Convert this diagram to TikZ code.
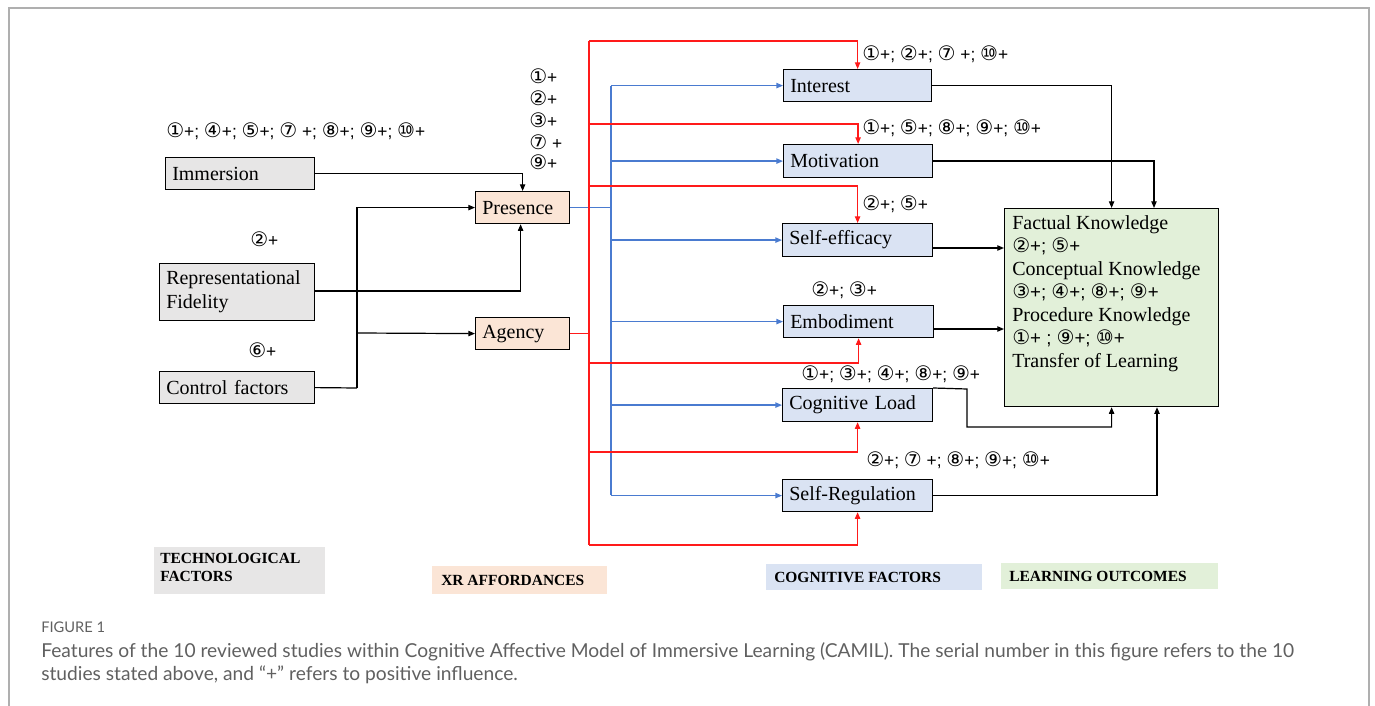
\documentclass[tikz,border=0pt]{standalone}
\usepackage{fontspec}
\setmainfont{Liberation Serif}
\newfontfamily\lsans{Liberation Sans}
\newfontfamily\dvs{DejaVu Sans}
\newfontfamily\capfont{Lato}
\usetikzlibrary{arrows.meta}
\definecolor{techc}{HTML}{E7E6E6}
\definecolor{xrc}{HTML}{FBE5D6}
\definecolor{cogc}{HTML}{DAE3F3}
\definecolor{loc}{HTML}{E2F0D9}
\definecolor{redc}{HTML}{FF1A1A}
\definecolor{bluec}{HTML}{4A7BD0}
\definecolor{framec}{HTML}{AFAFAF}
\definecolor{capc}{HTML}{606060}
\newcommand\ci[1]{{\dvs\fontsize{15}{15}\selectfont #1}}
\newcommand\mkbox[7]{%
  \pgfmathsetmacro\bxw{(#5-#3)*0.75-10}%
  \pgfmathsetmacro\bxh{(#6-#4)*0.75}%
  \node[#1, anchor=north west, inner xsep=5pt, inner ysep=0pt, text width=\bxw pt, minimum height=\bxh pt] (#2) at (#3,#4) {#7};}
\begin{document}
\begin{tikzpicture}[x=0.75pt,y=-0.75pt,
  bxt/.style={draw=black, line width=0.9pt, font=\fontsize{15}{18}\selectfont, align=left},
  tech/.style={bxt, fill=techc},
  xr/.style={bxt, fill=xrc},
  cog/.style={bxt, fill=cogc},
  lob/.style={bxt, fill=loc},
  lbl/.style={font=\lsans\fontsize{13}{14}\selectfont, anchor=west, inner sep=0pt},
  leg/.style={font=\bfseries\fontsize{11.6}{13.5}\selectfont, align=left, anchor=north west, inner sep=0pt},
  blk/.style={line width=0.9pt, draw=black},
  bl/.style={line width=1pt, draw=bluec},
  rd/.style={line width=1pt, draw=redc},
  tipk/.style={-{Triangle[length=5pt,width=4pt]}},
]
\useasboundingbox (0,0) rectangle (1375,706);
\draw[framec, line width=1pt] (9,706) -- (9,8) -- (1369,8) -- (1369,706);

% technological factors
\mkbox{tech}{imm}{165}{157}{314}{189}{Immersion}
\mkbox{tech}{rep}{159}{263}{314}{320}{Representational\\Fidelity}
\mkbox{tech}{ctl}{159}{371}{314}{403}{Control factors}
% XR affordances
\mkbox{xr}{pres}{475}{191}{569}{223}{Presence}
\mkbox{xr}{agy}{475}{317}{569}{349}{Agency}
% cognitive factors
\mkbox{cog}{int}{783}{69}{931}{101}{Interest}
\mkbox{cog}{mot}{783}{144}{932}{177}{Motivation}
\mkbox{cog}{se}{782}{223}{932}{256}{Self-efficacy}
\mkbox{cog}{emb}{783}{305}{933}{337}{Embodiment}
\mkbox{cog}{cl}{782}{388}{932}{421}{Cognitive Load}
\mkbox{cog}{sr}{782}{479}{932}{511}{Self-Regulation}
% learning outcomes
\mkbox{lob}{lo}{1004}{208}{1218}{406}{}
\node[font=\fontsize{15}{17.25}\selectfont, align=left, anchor=north west, inner sep=0pt] (lotext) at (1012,215)
  {Factual Knowledge\\
   {\lsans\fontsize{14}{14}\selectfont\ci{②}+; \ci{⑤}+}\\
   Conceptual Knowledge\\
   {\lsans\fontsize{14}{14}\selectfont\ci{③}+; \ci{④}+; \ci{⑧}+; \ci{⑨}+}\\
   Procedure Knowledge\\
   {\lsans\fontsize{14}{14}\selectfont\ci{①}+ ; \ci{⑨}+; \ci{⑩}+}\\
   Transfer of Learning};

% labels
\node[lbl] (l1) at (166,131) {\ci{①}+; \ci{④}+; \ci{⑤}+; \ci{⑦} +; \ci{⑧}+; \ci{⑨}+; \ci{⑩}+};
\node[lbl] (l2a) at (529,76) {\ci{①}+};
\node[lbl] (l2b) at (529,98) {\ci{②}+};
\node[lbl] (l2c) at (529,120) {\ci{③}+};
\node[lbl] (l2d) at (529,142) {\ci{⑦} +};
\node[lbl] (l2e) at (529,162) {\ci{⑨}+};
\node[lbl] (l3) at (250,239) {\ci{②}+};
\node[lbl] (l4) at (248,350) {\ci{⑥}+};
\node[lbl] (l5) at (862,54) {\ci{①}+; \ci{②}+; \ci{⑦} +; \ci{⑩}+};
\node[lbl] (l6) at (862,128) {\ci{①}+; \ci{⑤}+; \ci{⑧}+; \ci{⑨}+; \ci{⑩}+};
\node[lbl] (l7) at (862,204) {\ci{②}+; \ci{⑤}+};
\node[lbl] (l8) at (811,290) {\ci{②}+; \ci{③}+};
\node[lbl] (l9) at (801,374) {\ci{①}+; \ci{③}+; \ci{④}+; \ci{⑧}+; \ci{⑨}+};
\node[lbl] (l10) at (866,460) {\ci{②}+; \ci{⑦} +; \ci{⑧}+; \ci{⑨}+; \ci{⑩}+};

% black connectors: technological -> XR
\draw[blk, tipk] (imm.east) -| (pres.north);
\draw[blk, tipk] (rep.east |- 0,291) -| ([xshift=-1.5pt]pres.south);
\coordinate (cj) at (357,388);
\coordinate (cja) at (357,333);
\draw[blk] (ctl.east) -- (cj);
\draw[blk, tipk] (cj) |- (pres.west);
\draw[blk, tipk] (cja) -- (agy.west);

% blue connectors: presence -> cognitive
\coordinate (bt) at (611,86);
\coordinate (bb) at (611,495);
\draw[bl] (pres.east) -- (pres.east -| bt);
\draw[bl] (bt) -- (bb);
\foreach \n in {int,mot,se,emb,cl,sr}
  \draw[bl, tipk] (\n.west -| bt) -- (\n.west);

% red connectors: agency -> cognitive
\coordinate (rt) at (589,41);
\coordinate (rb) at (589,545);
\draw[rd] (agy.east) -- (agy.east -| rt);
\draw[rd] (rt) -- (rb);
\draw[rd, tipk] (rt) -| (int.north);
\draw[rd, tipk] (589,124) -| (mot.north);
\draw[rd, tipk] (589,186) -| (se.north);
\draw[rd, tipk] (589,363) -| (emb.south);
\draw[rd, tipk] (589,452) -| (cl.south);
\draw[rd, tipk] (rb) -| (sr.south);

% black connectors: cognitive -> learning outcomes
\draw[blk, tipk] (int.east) -| (lo.north);
\draw[blk, tipk] (mot.east) -| (lo.north -| 1154,0);
\draw[blk, tipk] (se.east |- 0,248) -- (lo.west |- 0,248);
\draw[blk, tipk] (emb.east |- 0,329) -- (lo.west |- 0,329);
\draw[blk, tipk] (cl.north east) -- (967,389) -- (967,427) -| (lo.south);
\draw[blk, tipk] (sr.east) -| (lo.south -| 1157,0);

% legend
\fill[techc] (154,547) rectangle (325,594);
\node[leg] (lg1) at (160,553) {TECHNOLOGICAL\\FACTORS};
\fill[xrc] (432,566) rectangle (607,594);
\node[leg, anchor=west] (lg2) at (441,580) {XR AFFORDANCES};
\fill[cogc] (766,564) rectangle (982,590);
\node[leg, anchor=west] (lg3) at (774,577) {COGNITIVE FACTORS};
\fill[loc] (1001,563) rectangle (1218,589);
\node[leg, anchor=west] (lg4) at (1009,576) {LEARNING OUTCOMES};

% caption
\node[font=\capfont\fontsize{11}{12}\selectfont, text=capc, anchor=west, inner sep=0pt] (fig) at (41,627) {FIGURE 1};
\node[font=\capfont\fontsize{14.4}{17.3}\selectfont, text=capc, anchor=north west, align=left, inner sep=0pt] (cap) at (41,642)
  {Features of the 10 reviewed studies within Cognitive Affective Model of Immersive Learning (CAMIL). The serial number in this figure refers to the 10\\
   studies stated above, and “+” refers to positive influence.};
\end{tikzpicture}
\end{document}
